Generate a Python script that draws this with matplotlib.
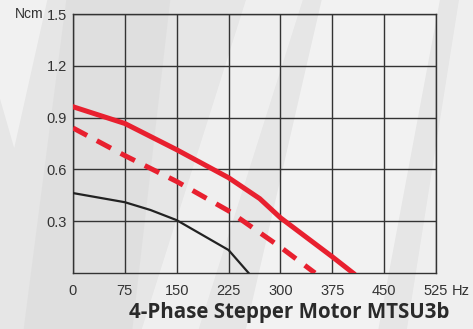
import numpy as np
import matplotlib.pyplot as plt
from matplotlib.patches import Polygon

# torque curves (Hz, Ncm)
hz_solid = [0, 75, 150, 225, 270, 300, 375, 405]
ncm_solid = [0.963, 0.866, 0.714, 0.552, 0.431, 0.32, 0.094, 0.0]

hz_dashed = [0, 75, 150, 225, 300, 350]
ncm_dashed = [0.84, 0.68, 0.53, 0.36, 0.15, 0.0]

hz_black = [0, 75, 112, 150, 225, 254]
ncm_black = [0.463, 0.41, 0.365, 0.306, 0.133, 0.0]

x_ticks = [0, 75, 150, 225, 300, 375, 450, 525]
y_ticks = [0.3, 0.6, 0.9, 1.2, 1.5]
title = "4-Phase Stepper Motor MTSU3b"

red = "#e8202f"
plt.rcParams['font.family'] = ['Liberation Sans', 'DejaVu Sans']

fig = plt.figure(figsize=(4.73, 3.29), dpi=100, facecolor="#e6e6e6")

# background with soft light streaks, kept behind the chart
bg = fig.add_axes([0, 0, 1, 1], zorder=-1)
bg.set_xlim(0, 1)
bg.set_ylim(0, 1)
bg.axis("off")
streaks = [
    ([(0.0, 0.70), (0.0, 1.0), (0.10, 1.0), (0.03, 0.55)], 0.45),
    ([(0.30, 0.0), (0.42, 0.0), (0.64, 1.0), (0.52, 1.0)], 0.4),
    ([(0.52, 0.0), (0.80, 0.0), (0.93, 1.0), (0.68, 1.0)], 0.5),
    ([(0.86, 0.0), (1.0, 0.0), (1.0, 1.0), (0.97, 1.0)], 0.4),
]
for pts, a in streaks:
    bg.add_patch(Polygon(pts, closed=True, facecolor="white", alpha=a, lw=0))
bg.add_patch(Polygon([(0.05, 0.0), (0.28, 0.0), (0.36, 1.0), (0.14, 1.0)],
                     closed=True, facecolor="#d8d8d8", alpha=0.45, lw=0))

ax = fig.add_axes([0.1543, 0.1702, 0.7675, 0.7872])
ax.set_facecolor("none")

ax.plot(hz_black, ncm_black, color="#222222", lw=1.6, zorder=3)
ax.plot(hz_dashed, ncm_dashed, color=red, lw=3.6, dashes=(3.2, 2.2), zorder=3)
ax.plot(hz_solid, ncm_solid, color=red, lw=3.6, zorder=3)

ax.set_xlim(0, 525)
ax.set_ylim(0, 1.5)
ax.set_xticks(x_ticks)
ax.set_xticklabels([str(v) for v in x_ticks])
ax.set_yticks(y_ticks)
ax.set_yticklabels([f"{v:.1f}" for v in y_ticks])
ax.grid(color="#333333", lw=1.0)
ax.set_axisbelow(True)
for s in ax.spines.values():
    s.set_color("#333333")
    s.set_linewidth(1.0)
ax.tick_params(axis="x", length=0, labelsize=10.5, colors="#333333", pad=8)
ax.tick_params(axis="y", length=0, labelsize=10.5, colors="#333333", pad=4.5)

# units
fig.text(0.032, 0.957, "Ncm", fontsize=10, color="#333333", va="center")
ax.annotate("Hz", xy=(525, 0), xytext=(11, -8), textcoords="offset points",
            fontsize=10.5, color="#333333", ha="left", va="top")

fig.text(0.612, 0.05, title, fontsize=14.8, fontweight="bold",
         family=["Open Sans", "DejaVu Sans"], color="#2a2a2a", ha="center", va="center")

fig.savefig("out.png", dpi=100, facecolor=fig.get_facecolor())
